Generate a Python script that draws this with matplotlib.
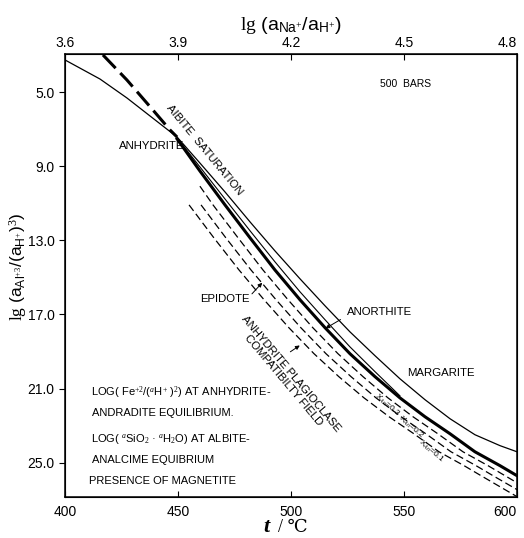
import matplotlib
matplotlib.use("Agg")
import matplotlib.pyplot as plt

plt.rcParams["font.family"] = ["Liberation Sans", "DejaVu Sans"]
plt.rcParams["mathtext.fontset"] = "custom"
plt.rcParams["mathtext.rm"] = "Liberation Serif"
plt.rcParams["mathtext.it"] = "Liberation Serif:italic"
plt.rcParams["mathtext.bf"] = "Liberation Serif:bold"
plt.rcParams["mathtext.sf"] = "Liberation Sans"

# temperature (C) vs lg(aAl+3/(aH+)^3)
anorthite_t = [400.0, 415.5, 427.4, 437.6, 449.6, 459.7, 470.8, 481.9, 492.9, 504.0,
               515.1, 526.1, 537.2, 548.2, 559.3, 570.4, 581.4, 592.5, 600.0]
anorthite_y = [3.27, 4.30, 5.32, 6.29, 7.43, 8.83, 10.39, 12.01, 13.57, 15.08,
               16.54, 17.94, 19.23, 20.47, 21.60, 22.63, 23.49, 24.08, 24.41]

inner_t = [449.6, 459.7, 470.8, 481.9, 492.9, 504.0, 515.1, 526.1, 537.2, 548.2]
inner_y = [7.48, 9.04, 10.77, 12.49, 14.16, 15.78, 17.29, 18.75, 20.09, 21.39]

plag_t = [449.6, 459.7, 470.8, 481.9, 492.9, 504.0, 515.1, 526.1, 537.2, 548.2,
          559.3, 570.4, 581.4, 592.5, 600.0]
plag_y = [7.53, 9.26, 11.09, 12.87, 14.60, 16.21, 17.72, 19.12, 20.36, 21.50,
          22.52, 23.44, 24.41, 25.16, 25.70]

albite_t = [416.8, 427.4, 438.9, 446.5, 449.6]
albite_y = [3.0, 4.35, 5.97, 7.05, 7.43]

x03_t = [459.7, 465.5, 476.6, 487.6, 498.7, 509.7, 520.8, 531.9, 542.9, 554.0, 565.0, 576.1, 587.2, 594.7, 600.0]
x03_y = [10.08, 11.09, 12.87, 14.60, 16.21, 17.72, 19.12, 20.36, 21.50, 22.52, 23.44, 24.41, 25.16, 25.70, 26.08]
x02_t = [460.2, 471.2, 482.3, 493.4, 504.4, 515.5, 526.6, 537.6, 548.7, 559.7, 570.8, 581.9, 589.4, 600.0]
x02_y = [11.09, 12.87, 14.60, 16.21, 17.72, 19.12, 20.36, 21.50, 22.52, 23.44, 24.41, 25.16, 25.70, 26.45]
x01_t = [454.9, 465.9, 477.0, 488.1, 499.1, 510.2, 521.2, 532.3, 543.4, 554.4, 565.5, 576.6, 584.1, 600.0]
x01_y = [11.09, 12.87, 14.60, 16.21, 17.72, 19.12, 20.36, 21.50, 22.52, 23.44, 24.41, 25.16, 25.70, 26.83]

x_ticks = [400, 450, 500, 550, 600]
y_ticks = [5.0, 9.0, 13.0, 17.0, 21.0, 25.0]
top_ticks = [3.6, 3.9, 4.2, 4.5, 4.8]

fig = plt.figure(figsize=(5.24, 5.38), dpi=100)
ax = fig.add_axes([0.124, 0.0762, 0.8626, 0.8234])

ax.plot(anorthite_t, anorthite_y, color="black", lw=0.9)
ax.plot(inner_t, inner_y, color="black", lw=0.8)
ax.plot(plag_t, plag_y, color="black", lw=2.2)
ax.plot(albite_t, albite_y, color="black", lw=2.2, dashes=(6, 2.2))
for t, y in [(x03_t, x03_y), (x02_t, x02_y), (x01_t, x01_y)]:
    ax.plot(t, y, color="black", lw=0.9, dashes=(6, 3))

ax.set_xlim(400, 600)
ax.set_ylim(26.85, 2.95)
ax.set_xticks(x_ticks)
ax.set_yticks(y_ticks)
ax.set_yticklabels(["%.1f" % v for v in y_ticks])
ax.tick_params(axis="x", direction="in", length=4, labelsize=10, pad=6)
ax.tick_params(axis="y", direction="out", length=4, labelsize=10)
ax.get_xticklabels()[-1].set_ha("right")
for s in ax.spines.values():
    s.set_linewidth(1.1)

ax.set_ylabel(r"$\mathrm{lg}$ (a$_{\mathsf{Al}^{+3}}$/(a$_{\mathsf{H}^{+}}$)$^{3}$)", fontsize=12.5)
ax.yaxis.set_label_coords(-0.08, 0.52)

fig.text(0.508, 0.0204, "t", fontsize=16, family="Liberation Serif", style="italic",
         weight="bold", ha="center", va="center")
fig.text(0.53, 0.0204, "/ ℃", fontsize=13, family=["Liberation Serif", "DejaVu Serif", "DejaVu Sans"],
         ha="left", va="center")

top = ax.twiny()
top.set_xlim(3.6, 4.8)
top.set_xticks(top_ticks)
top.set_xticklabels(["%.1f" % v for v in top_ticks])
top.tick_params(axis="x", direction="in", length=4, labelsize=10, pad=3)
top.get_xticklabels()[-1].set_ha("right")
top.set_xlabel(r"$\mathrm{lg}$ (a$_{\mathsf{Na}^{+}}$/a$_{\mathsf{H}^{+}}$)", fontsize=14, labelpad=4)

fs = 8.2
ax.text(550.5, 4.57, "500  BARS", fontsize=7.5, ha="center", va="center")
ax.text(461.9, 8.13, "AIBITE  SATURATION", fontsize=fs, ha="center", va="center", rotation=-50.5)
ax.text(438.3, 7.9, "ANHYDRITE", fontsize=fs, ha="center", va="center")
ax.text(470.8, 16.15, "EPIDOTE", fontsize=fs, ha="center", va="center")
ax.annotate("", xy=(488.1, 15.18), xytext=(481.9, 16.0),
            arrowprops=dict(arrowstyle="-|>", color="black", lw=0.7, mutation_scale=6))
ax.text(539.4, 16.86, "ANORTHITE", fontsize=fs, ha="center", va="center")
ax.annotate("", xy=(514.2, 17.83), xytext=(523.0, 17.2),
            arrowprops=dict(arrowstyle="-|>", color="black", lw=0.7, mutation_scale=6))
ax.text(498.3, 20.4, "ANHYDRITE PLAGIOCLASE\nCOMPATIBILTY FIELD", fontsize=fs, ha="center",
        va="center", rotation=-50, linespacing=1.0)
ax.annotate("", xy=(504.9, 18.59), xytext=(498.7, 19.1),
            arrowprops=dict(arrowstyle="-|>", color="black", lw=0.7, mutation_scale=6))
ax.text(566.4, 20.16, "MARGARITE", fontsize=fs, ha="center", va="center")
ax.text(542.3, 21.9, r"X$_{An}$=0.3", fontsize=6, ha="center", va="center", rotation=-41)
ax.text(553.1, 23.07, r"X$_{An}$=0.2", fontsize=6, ha="center", va="center", rotation=-41)
ax.text(562.0, 24.37, r"X$_{An}$=0.1", fontsize=6, ha="center", va="center", rotation=-41)

fs2 = 8
ax.text(411.5, 21.2, r"LOG( Fe$^{+2}$/($^{a}$H$^{+}$ )$^{2}$) AT ANHYDRITE-", fontsize=fs2, va="center")
ax.text(411.9, 22.3, "ANDRADITE EQUILIBRIUM.", fontsize=fs2, va="center")
ax.text(411.5, 23.7, r"LOG( $^{a}$SiO$_{2}$ · $^{a}$H$_{2}$O) AT ALBITE-", fontsize=fs2, va="center")
ax.text(411.9, 24.85, "ANALCIME EQUIBRIUM", fontsize=fs2, va="center")
ax.text(410.6, 26.0, "PRESENCE OF MAGNETITE", fontsize=fs2, va="center")

plt.savefig("out.png", dpi=100)
plt.close()
